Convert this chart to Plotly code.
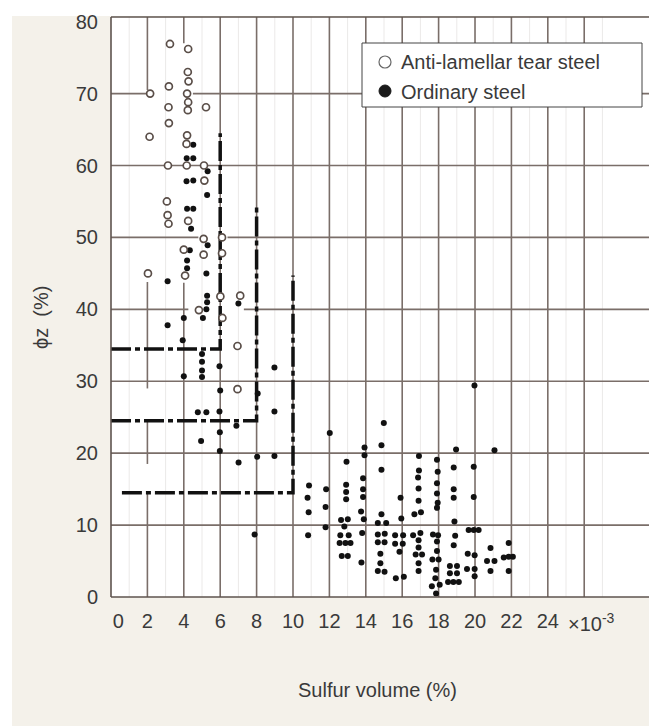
import plotly.graph_objects as go

# ---------------- data ----------------
series_names = ["Anti-lamellar tear steel", "Ordinary steel"]

# anti-lamellar tear steel (open circles)
anti_x = [3.24, 4.24, 4.22, 4.26, 3.18, 2.15, 4.18, 4.24, 3.16, 4.22,
          5.22, 3.18, 2.12, 4.18, 4.15, 3.13, 4.16, 5.11, 5.13, 3.07,
          3.11, 3.16, 4.24, 5.09, 6.10, 4.00, 5.09, 6.10, 2.03, 4.07,
          6.01, 7.10, 4.83, 6.12, 6.95, 6.95]
anti_y = [76.9, 76.2, 73.0, 71.7, 71.0, 70.0, 70.0, 68.8, 68.1, 67.7,
          68.1, 65.9, 64.0, 64.2, 63.0, 60.0, 60.0, 60.0, 57.9, 55.0,
          53.1, 51.9, 52.3, 49.8, 50.0, 48.3, 47.6, 47.8, 45.0, 44.7,
          41.8, 41.9, 39.9, 38.8, 34.9, 28.9]

# ordinary steel (filled dots)
ord_x = [4.52, 4.16, 4.52, 5.31, 4.15, 4.52, 5.28, 4.18, 4.52, 4.40,
         5.31, 4.33, 4.18, 4.18, 3.11, 5.24, 5.28, 5.28, 5.24, 5.05,
         4.00, 3.11, 7.00, 3.94, 5.00, 5.00, 5.00, 5.00, 4.00, 5.96,
         6.00, 8.98, 8.06, 4.77, 5.24, 5.96, 8.98, 6.89, 5.98, 4.95,
         5.98, 7.01, 8.03, 8.98, 7.89,
         10.88, 10.80, 10.86, 10.83, 11.82, 11.79, 11.79, 12.02,
         12.94, 12.92, 12.92, 12.92, 12.64, 13.01, 12.82, 12.60, 13.06, 12.56, 12.88, 13.16, 12.68, 13.01,
         13.93, 13.93, 13.85, 13.85, 13.85, 13.74, 13.89, 13.80, 13.76,
         14.99, 14.86, 14.86, 14.86, 14.66, 15.12, 14.66, 15.04, 14.66, 15.03, 14.80, 14.80, 14.66, 15.03,
         15.91, 15.95, 15.61, 16.05, 15.61, 16.03, 15.85, 15.65, 16.09,
         16.92, 16.92, 16.87, 16.90, 16.90, 16.67, 17.03, 16.60, 17.00, 16.90, 16.90, 16.74, 17.09, 16.90, 16.90,
         17.91, 17.95, 17.91, 17.91, 17.95, 17.91, 17.69, 17.97, 17.91, 17.91, 17.66, 18.00, 17.86, 17.82, 17.63, 18.06, 17.86,
         18.96, 18.83, 18.83, 18.83, 18.87, 18.91, 18.83, 18.62, 19.01, 18.62, 19.01, 18.52, 18.81, 19.11,
         19.97, 19.93, 19.93, 19.65, 19.93, 20.20, 19.60, 19.98, 19.56, 19.98, 19.98,
         21.07, 20.85, 20.66, 21.07, 20.85,
         21.85, 21.58, 21.85, 22.08, 21.85]
ord_y = [62.9, 61.0, 61.0, 59.2, 57.8, 57.9, 55.9, 54.0, 54.0, 51.2,
         48.9, 48.2, 46.8, 45.7, 43.9, 45.0, 41.9, 41.0, 40.0, 38.8,
         38.8, 37.8, 40.8, 35.7, 33.8, 32.7, 31.5, 30.6, 30.7, 32.1,
         28.7, 31.9, 28.3, 25.7, 25.7, 25.8, 25.8, 23.8, 22.9, 21.7,
         20.3, 18.7, 19.5, 19.6, 8.7,
         15.5, 13.8, 11.8, 8.6, 15.0, 12.5, 9.7, 22.8,
         18.8, 15.6, 14.6, 13.6, 10.7, 10.8, 9.8, 8.6, 8.6, 7.5, 7.5, 7.5, 5.7, 5.7,
         20.8, 19.7, 16.5, 15.0, 13.9, 11.9, 10.8, 8.9, 4.8,
         24.2, 21.1, 17.7, 11.5, 10.3, 10.3, 8.7, 8.8, 7.6, 7.6, 6.0, 4.7, 3.6, 3.5,
         13.8, 10.9, 8.6, 8.6, 7.4, 7.4, 6.3, 2.6, 2.8,
         19.6, 17.6, 16.6, 15.1, 13.4, 11.5, 11.8, 8.6, 8.9, 7.9, 6.9, 5.9, 5.9, 4.7, 3.6,
         19.1, 17.4, 15.8, 14.4, 13.1, 12.4, 8.7, 8.6, 7.7, 6.4, 5.2, 5.2, 3.8, 2.6, 1.5, 1.7, 0.5,
         20.5, 18.0, 15.0, 13.8, 10.5, 8.5, 7.2, 4.3, 4.3, 3.3, 3.3, 2.1, 2.1, 2.1,
         29.4, 18.1, 13.9, 9.3, 9.3, 9.3, 6.0, 5.8, 3.9, 3.9, 2.9,
         20.4, 6.8, 5.0, 5.0, 3.6,
         7.5, 5.5, 5.6, 5.6, 3.6]

# dash-dot limit lines
lim6_x = [0, 6, 6]
lim6_y = [34.5, 34.5, 64.5]
lim8_x = [0, 8, 8]
lim8_y = [24.5, 24.5, 54.5]
lim10_x = [0.6, 10, 10]
lim10_y = [14.5, 14.5, 44.7]

x_tick_vals = [0, 2, 4, 6, 8, 10, 12, 14, 16, 18, 20, 22, 24]
y_tick_vals = [0, 10, 20, 30, 40, 50, 60, 70, 80]

# ---------------- layout geometry (page pixels) ----------------
W, H = 649, 726
PL, PT, PR, PB = 111, 17, 649, 597          # plot area
ML, MT, MR, MB = PL, PT, W - PR, H - PB
PW, PH = PR - PL, PB - PT
XMAX, YMAX = 29.56, 80.65
FONT = "Liberation Sans, Arial, Helvetica, sans-serif"
TXT = "#3a3a3a"
GRID = "#7a6e69"


def pxx(px):
    return (px - PL) / PW


def pxy(py):
    return (PB - py) / PH


fig = go.Figure()

dash = "20px,4px,5px,4px"
for lx, ly in [(lim6_x, lim6_y), (lim8_x, lim8_y), (lim10_x, lim10_y)]:
    fig.add_trace(go.Scatter(x=lx, y=ly, mode="lines", showlegend=False,
                             hoverinfo="skip",
                             line=dict(color="#111111", width=3.5, dash=dash)))

fig.add_trace(go.Scatter(x=ord_x, y=ord_y, mode="markers", name=series_names[1],
                         showlegend=False,
                         marker=dict(symbol="circle", size=6, color="#111111")))
fig.add_trace(go.Scatter(x=anti_x, y=anti_y, mode="markers", name=series_names[0],
                         showlegend=False,
                         marker=dict(symbol="circle", size=7, color="white",
                                     line=dict(color="#5a4e48", width=1.7))))

shapes = []
# backgrounds
shapes.append(dict(type="rect", xref="paper", yref="paper", layer="below",
                   x0=pxx(12), x1=pxx(W + 4), y0=pxy(H + 4), y1=pxy(16),
                   fillcolor="#f4f1ea", line=dict(width=0)))
shapes.append(dict(type="rect", xref="paper", yref="paper", layer="below",
                   x0=0, x1=1, y0=0, y1=1, fillcolor="white", line=dict(width=0)))
# faint minor vertical lines
for xv in range(1, 29, 2):
    shapes.append(dict(type="line", xref="x", yref="y", layer="below",
                       x0=xv, x1=xv, y0=0, y1=YMAX,
                       line=dict(color="#ebe9e8", width=1)))
# major vertical grid (with gaps as in the scan)
v_segments = {2: [(70.5, YMAX), (29.0, 43.8), (18.5, 24.5), (0, 14.5)],
              4: [(77.0, YMAX), (0, 43.7)]}
for xv in range(2, 27, 2):
    for y0, y1 in v_segments.get(xv, [(0, YMAX)]):
        shapes.append(dict(type="line", xref="x", yref="y", layer="below",
                           x0=xv, x1=xv, y0=y0, y1=y1,
                           line=dict(color=GRID, width=1.6)))
# horizontal grid
h_segments = {70: [(0, 1.95), (4.5, XMAX)],
              50: [(0, 4.8), (6.4, XMAX)],
              40: [(0, 4.25), (7.3, XMAX)]}
for yv in range(10, 80, 10):
    for x0, x1 in h_segments.get(yv, [(0, XMAX)]):
        shapes.append(dict(type="line", xref="x", yref="y", layer="below",
                           x0=x0, x1=x1, y0=yv, y1=yv,
                           line=dict(color=GRID, width=1.6)))
# borders
for bx0, bx1, by0, by1 in [(0, 0, 0, 1), (0, 1, 0, 0), (0, 1, 1, 1)]:
    shapes.append(dict(type="line", xref="paper", yref="paper",
                       x0=bx0, x1=bx1, y0=by0, y1=by1,
                       line=dict(color="#5e534e", width=1.6)))

# manual legend box
shapes.append(dict(type="rect", xref="paper", yref="paper", layer="above",
                   x0=pxx(362), x1=pxx(642), y0=pxy(107), y1=pxy(43),
                   fillcolor="white", line=dict(color="#444444", width=1)))
shapes.append(dict(type="circle", xref="paper", yref="paper", layer="above",
                   x0=pxx(379), x1=pxx(391), y0=pxy(68), y1=pxy(56),
                   fillcolor="white", line=dict(color="#666666", width=1.2)))
shapes.append(dict(type="circle", xref="paper", yref="paper", layer="above",
                   x0=pxx(379), x1=pxx(391), y0=pxy(97), y1=pxy(85),
                   fillcolor="#1a1a1a", line=dict(color="#1a1a1a", width=1)))

annotations = [
    dict(text=series_names[0], xref="paper", yref="paper", x=pxx(399), y=pxy(62),
         xanchor="left", yanchor="middle", showarrow=False,
         font=dict(family=FONT, size=20, color=TXT)),
    dict(text=series_names[1], xref="paper", yref="paper", x=pxx(399), y=pxy(92),
         xanchor="left", yanchor="middle", showarrow=False,
         font=dict(family=FONT, size=20, color=TXT)),
    dict(text="×10<sup>-3</sup>", xref="paper", yref="paper", x=pxx(566), y=pxy(622),
         xanchor="left", yanchor="middle", showarrow=False,
         font=dict(family=FONT, size=20, color=TXT)),
    dict(text="Sulfur volume (%)", xref="paper", yref="paper", x=pxx(377), y=pxy(690),
         xanchor="center", yanchor="middle", showarrow=False,
         font=dict(family=FONT, size=20, color=TXT)),
    dict(text="ϕz\u00a0 (%)", xref="paper", yref="paper", x=pxx(41), y=pxy(318),
         xanchor="center", yanchor="middle", showarrow=False, textangle=-90,
         font=dict(family=FONT, size=20, color=TXT)),
]

x_tick_pos = [0.4] + x_tick_vals[1:]

fig.update_layout(
    width=W, height=H,
    margin=dict(l=ML, r=MR, t=MT, b=MB, pad=0),
    paper_bgcolor="white",
    plot_bgcolor="white",
    showlegend=False,
    shapes=shapes,
    annotations=annotations,
    xaxis=dict(range=[0, XMAX], showgrid=False, zeroline=False, showline=False,
               tickmode="array", tickvals=x_tick_pos,
               ticktext=[str(v) for v in x_tick_vals],
               ticks="", ticklabelstandoff=10,
               tickfont=dict(family=FONT, size=20, color=TXT)),
    yaxis=dict(range=[0, YMAX], showgrid=False, zeroline=False, showline=False,
               tickmode="array", tickvals=y_tick_vals,
               ticktext=[str(v) for v in y_tick_vals],
               ticks="", ticklabelstandoff=12,
               tickfont=dict(family=FONT, size=20, color=TXT)),
)

# remove the browser's default 8px body margin so the figure fills the window
fig.write_html("out.html",
               config={"displayModeBar": False},
               post_script="document.body.style.margin='0';"
                           "document.body.style.overflow='hidden';")
